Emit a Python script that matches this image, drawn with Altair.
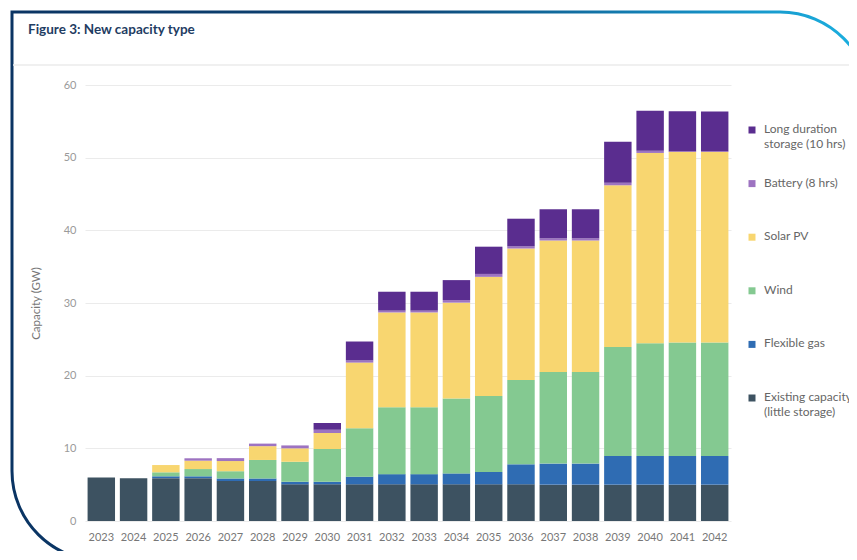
import json
import altair as alt
import pandas as pd

years = [str(y) for y in range(2023, 2043)]

# series, listed top of legend -> bottom
series_legend = [
    "Long duration storage (10 hrs)",
    "Battery (8 hrs)",
    "Solar PV",
    "Wind",
    "Flexible gas",
    "Existing capacity (little storage)",
]
legend_labels = [
    "Long duration|storage (10 hrs)",
    "Battery (8 hrs)",
    "Solar PV",
    "Wind",
    "Flexible gas",
    "Existing capacity|(little storage)",
]
colors = ["#5a2d8f", "#9d73c1", "#f8d670", "#84c991", "#2f6cb3", "#3d5261"]

existing = [6.0, 5.9, 5.9, 5.9, 5.5, 5.5, 5.05, 5.05, 5.05, 5.05,
            5.05, 5.05, 5.05, 5.05, 5.0, 5.0, 5.0, 5.0, 5.0, 5.0]
flexible_gas = [0, 0, 0.25, 0.25, 0.35, 0.35, 0.35, 0.35, 1.05, 1.4,
                1.4, 1.5, 1.7, 2.75, 2.9, 2.9, 3.95, 3.95, 3.95, 3.95]
wind = [0, 0, 0.55, 1.0, 1.0, 2.55, 2.75, 4.5, 6.65, 9.2,
        9.2, 10.3, 10.45, 11.6, 12.6, 12.6, 15.0, 15.5, 15.6, 15.6]
solar_pv = [0, 0, 1.0, 1.15, 1.4, 1.9, 1.85, 2.2, 9.05, 13.05,
            13.05, 13.2, 16.4, 18.1, 18.1, 18.1, 22.25, 26.2, 26.25, 26.25]
battery = [0, 0, 0, 0.33, 0.4, 0.35, 0.4, 0.45, 0.3, 0.25,
           0.25, 0.35, 0.4, 0.3, 0.3, 0.3, 0.35, 0.3, 0.1, 0.1]
long_duration = [0, 0, 0, 0, 0, 0, 0, 0.95, 2.6, 2.6,
                 2.6, 2.75, 3.75, 3.8, 4.0, 4.0, 5.65, 5.5, 5.5, 5.45]

title_text = "Figure 3: New capacity type"
y_ticks = [0, 10, 20, 30, 40, 50, 60]

# stacking order bottom -> top
stack_order = list(reversed(series_legend))
series_values = {
    "Existing capacity (little storage)": existing,
    "Flexible gas": flexible_gas,
    "Wind": wind,
    "Solar PV": solar_pv,
    "Battery (8 hrs)": battery,
    "Long duration storage (10 hrs)": long_duration,
}
rows = []
for name in stack_order:
    for yr, v in zip(years, series_values[name]):
        rows.append({"year": yr, "series": name, "value": v})
df = pd.DataFrame(rows)

legend_df = pd.DataFrame({"series": series_legend, "label": legend_labels})
title_df = pd.DataFrame({"t": [title_text]})
one_df = pd.DataFrame({"a": [0]})

color_scale = alt.Scale(domain=series_legend, range=colors)
FONT = "Lato"

frame = alt.Chart(one_df).mark_rect(
    fill="#ffffff",
    fillOpacity=0,
    strokeWidth=3,
    cornerRadiusTopRight=90,
    cornerRadiusBottomLeft=90,
    stroke=alt.LinearGradient(
        gradient="linear",
        stops=[
            alt.GradientStop(color="#0a3463", offset=0),
            alt.GradientStop(color="#0d4474", offset=0.45),
            alt.GradientStop(color="#1488bd", offset=0.78),
            alt.GradientStop(color="#1cb2e2", offset=1),
        ],
        x1=0, x2=1, y1=0, y2=0,
    ),
).encode(
    x=alt.value(-73), x2=alt.value(785), y=alt.value(-73), y2=alt.value(476)
)

separator = alt.Chart(one_df).mark_rule(color="#ebebeb", strokeWidth=1.5).encode(
    x=alt.value(-72), x2=alt.value(790), y=alt.value(-20)
)

bars = alt.Chart(df).transform_calculate(
    stack="indexof(%s, datum.series)" % json.dumps(stack_order)
).mark_bar().encode(
    x=alt.X(
        "year:O",
        title=None,
        scale=alt.Scale(paddingInner=0.15, paddingOuter=0.08),
        axis=alt.Axis(
            labelAngle=0, ticks=False, domain=False, labelPadding=10,
            labelFont=FONT, labelFontSize=11, labelColor="#777777",
        ),
    ),
    y=alt.Y(
        "value:Q",
        stack="zero",
        title="Capacity (GW)",
        scale=alt.Scale(domain=[0, 60], nice=False),
        axis=alt.Axis(
            values=y_ticks, ticks=False, domain=False, labelPadding=9,
            labelFont=FONT, labelFontSize=11, labelColor="#9a9a9a",
            gridColor="#ebebeb", gridWidth=1,
            titleFont=FONT, titleFontSize=11.5, titleFontWeight="normal",
            titleColor="#777777", titlePadding=22,
        ),
    ),
    color=alt.Color("series:N", scale=color_scale, legend=None),
    order=alt.Order("stack:Q", sort="ascending"),
)

legend_y = alt.Y(
    "series:N", sort=series_legend, axis=None,
    scale=alt.Scale(type="point", range=[45, 313], padding=0),
)

legend_sym = alt.Chart(legend_df).mark_square(size=49, opacity=1).encode(
    x=alt.value(667),
    y=legend_y,
    color=alt.Color("series:N", scale=color_scale, legend=None),
)

legend_txt = alt.Chart(legend_df).mark_text(
    align="left", baseline="top", dy=-6, lineBreak="|", lineHeight=15,
    font=FONT, fontSize=12, color="#666666",
).encode(
    x=alt.value(679),
    y=legend_y,
    text="label:N",
)

title = alt.Chart(title_df).mark_text(
    align="left", baseline="middle", font=FONT, fontWeight="bold",
    fontSize=13.5, color="#1f3d63",
).encode(x=alt.value(-57), y=alt.value(-55), text="t:N")

chart = alt.layer(frame, separator, bars, legend_sym, legend_txt, title).resolve_scale(
    y="independent"
).properties(
    width=646,
    height=436,
    padding={"left": 77, "top": 77, "right": 118, "bottom": 30},
    autosize=alt.AutoSizeParams(type="none"),
    background="#ffffff",
).configure_view(stroke=None)

chart.save("out.html", embed_options={"renderer": "svg", "actions": False})
